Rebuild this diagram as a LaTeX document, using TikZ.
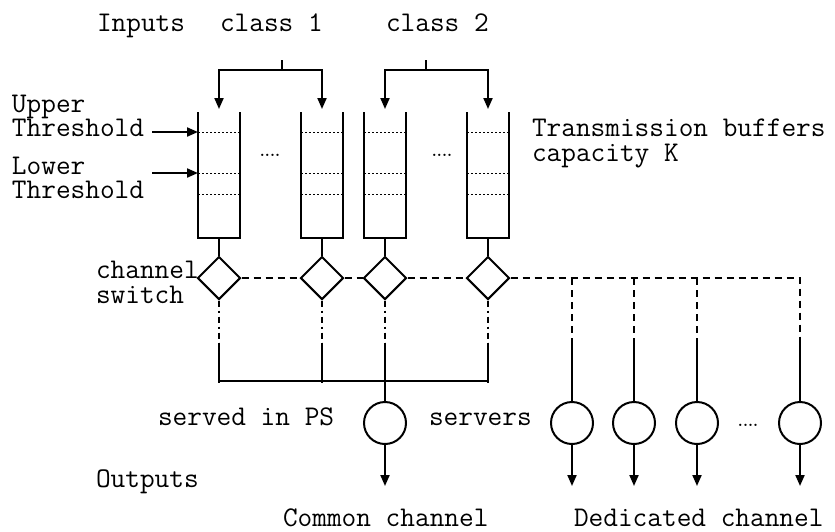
\documentclass[tikz,border=0pt]{standalone}
\usetikzlibrary{arrows.meta,calc,shapes.geometric}

\tikzset{
  lbl/.style={inner sep=0pt, anchor=base west, text height=0.62em, text depth=0.12em,
    font=\ttfamily\fontsize{28.5}{28.5}\selectfont},
  gap/.style={inner sep=0pt, font=\rmfamily\bfseries\fontsize{16}{16}\selectfont},
  buf/.style={minimum width=40pt, minimum height=124pt, inner sep=0pt},
  switch/.style={draw, diamond, aspect=1, minimum width=43pt, minimum height=43pt, inner sep=0pt},
  server/.style={draw, circle, minimum size=42pt, inner sep=0pt},
  lev/.style={line width=0.9pt, dash pattern=on 2pt off 2pt},
  ctrl/.style={dash pattern=on 7pt off 5pt},
  dd/.style={dash pattern=on 6pt off 4pt on 2pt off 4pt},
  arr/.style={-{Triangle[length=11pt,width=9pt]}}
}

\begin{document}
\begin{tikzpicture}[x=1pt, y=-1pt, line width=2pt]
\useasboundingbox (0,0) rectangle (835,531);

\node[buf] (B1) at (219,175) {};
\node[buf] (B2) at (322,175) {};
\node[buf] (B3) at (385,175) {};
\node[buf] (B4) at (488,175) {};

\node[switch] (S1) at (219,278) {};
\node[switch] (S2) at (322,278) {};
\node[switch] (S3) at (385,278) {};
\node[switch] (S4) at (488,278) {};

\node[server] (C) at (385,423) {};
\node[server] (D1) at (572,423) {};
\node[server] (D2) at (634,423) {};
\node[server] (D3) at (697,423) {};
\node[server] (D4) at (800,423) {};

\node[gap, anchor=base] (g1) at (270,156) {....};
\node[gap, anchor=base] (g2) at (442,156) {....};
\node[gap, anchor=base] (g3) at (748,426) {....};

\node[lbl] (inp) at (96,31) {Inputs};
\node[lbl] (cl1) at (219,31) {class 1};
\node[lbl] (cl2) at (385,31) {class 2};
\node[lbl] (UU) at (11,112) {Upper};
\node[lbl] (UT) at (11,136) {Threshold};
\node[lbl] (LL) at (11,174) {Lower};
\node[lbl] (LT) at (11,198) {Threshold};
\node[lbl] (tb1) at (531,136) {Transmission buffers};
\node[lbl] (tb2) at (531,161) {capacity K};
\node[lbl] (ch1) at (95,278) {channel};
\node[lbl] (ch2) at (95,303) {switch};
\node[lbl] (ps) at (157,425) {served in PS};
\node[lbl] (sv) at (428,425) {servers};
\node[lbl] (out) at (95,487) {Outputs};
\node[lbl] (cc) at (282,526) {Common channel};
\node[lbl] (dc) at (573,526) {Dedicated channel};

\foreach \i in {1,...,4} {
  \draw (B\i.north west) -- (B\i.south west) -- (B\i.south east) -- (B\i.north east);
  \coordinate (B\i-u) at ($(B\i.north west)+(0,20)$);
  \coordinate (B\i-l) at ($(B\i.north west)+(0,61)$);
  \draw[lev] (B\i-u) -- ($(B\i.north east)+(0,20)$)
    (B\i-l) -- ($(B\i.north east)+(0,61)$)
    ($(B\i.north west)+(0,82)$) -- ($(B\i.north east)+(0,82)$);
  \draw (B\i.south) -- (S\i.north);
  \draw[dd] (S\i.south) -- ++(0,42);
  \draw ($(S\i.south)+(0,42)$) -- ++(0,40);
}

\coordinate (in1) at (282,60);
\coordinate (in2) at (426,60);
\draw (in1) -- ++(0,10) coordinate (f1);
\draw (in2) -- ++(0,10) coordinate (f2);
\draw[arr, shorten >=3pt] (f1) -| (B1.north);
\draw[arr, shorten >=3pt] (f1) -| (B2.north);
\draw[arr, shorten >=3pt] (f2) -| (B3.north);
\draw[arr, shorten >=3pt] (f2) -| (B4.north);

\draw[arr] ($(UT.east |- B1-u)+(7,0)$) -- (B1-u);
\draw[arr] ($(LT.east |- B1-l)+(7,0)$) -- (B1-l);

\path[ctrl] (S1.east) edge (S2.west) (S2.east) edge (S3.west) (S3.east) edge (S4.west);
\draw[ctrl] (S4.east) -- (S4.east -| D4) -- ++(0,64);
\foreach \i in {1,2,3} \draw[ctrl] (S4.east -| D\i) -- ++(0,64);
\foreach \i in {1,...,4} \draw ($(S4.east -| D\i)+(0,64)$) -- (D\i.north);

\coordinate (bus) at ($(C.north)+(0,-20)$);
\draw (S1.south |- bus) -- (S4.south |- bus);
\draw (bus) -- (C.north);

\draw[arr] (C.south) -- ++(0,41);
\foreach \i in {1,...,4} \draw[arr] (D\i.south) -- ++(0,41);
\end{tikzpicture}
\end{document}
